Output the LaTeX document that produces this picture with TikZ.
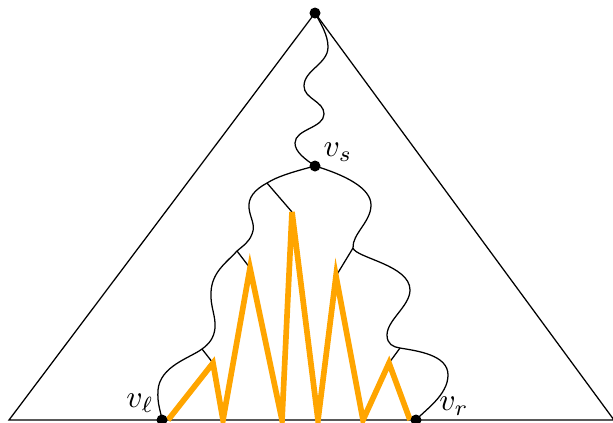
\documentclass[tikz,border=0pt]{standalone}
\usepackage{amsmath}
\definecolor{pathorange}{RGB}{255,165,0}
\begin{document}
\begin{tikzpicture}[x=0.3175pt,y=-0.3175pt,
  dot/.style={circle,fill=black,inner sep=0pt,minimum size=3.5pt},
  thin line/.style={line width=0.4pt,black},
  wavy/.style={line width=0.4pt,black},
  orange path/.style={line width=1.8pt,pathorange,line join=miter},
  lab/.style={inner sep=0pt}]
\useasboundingbox (0,0) rectangle (613,422);
% key points
\coordinate (top) at (315,13);
\coordinate (vs) at (315,166);
\coordinate (vl) at (162,420);
\coordinate (vr) at (416,420);
\coordinate (bl) at (9,420);
\coordinate (br) at (614,420);
% branch points on the curves
\coordinate (l1) at (267,183);
\coordinate (l2) at (237,251);
\coordinate (l3) at (202,349);
\coordinate (r1) at (353,248);
\coordinate (r2) at (400,348);
% orange peaks and feet
\coordinate (p1) at (213,363);
\coordinate (p2) at (250,268);
\coordinate (p3) at (292,212);
\coordinate (p4) at (336,276);
\coordinate (p5) at (389,363);
\coordinate (f0) at (168,420);
\coordinate (f1) at (223,420);
\coordinate (f2) at (282,420);
\coordinate (f3) at (318,420);
\coordinate (f4) at (363,420);
\coordinate (f5) at (410,420);
% triangle
\draw[thin line] (bl) -- (br) -- (top) -- cycle;
% wavy path from top to v_s
\draw[wavy] (top) .. controls (321,24) and (328,35) .. (328,47)
  .. controls (328,64) and (304,70) .. (304,86)
  .. controls (304,99) and (324,101) .. (324,114)
  .. controls (324,128) and (295,129) .. (295,143)
  .. controls (295,152) and (305,159) .. (vs);
% left boundary
\draw[wavy] (vs) .. controls (296,171) and (278,176) .. (l1)
  .. controls (254,190) and (248,198) .. (249,208)
  .. controls (250,218) and (256,225) .. (252,234)
  .. controls (249,242) and (244,245) .. (l2)
  .. controls (226,263) and (212,272) .. (211,292)
  .. controls (210,306) and (216,316) .. (215,328)
  .. controls (214,338) and (209,344) .. (l3)
  .. controls (190,358) and (160,366) .. (158,390)
  .. controls (157,404) and (161,412) .. (vl);
% right boundary
\draw[wavy] (vs) .. controls (345,175) and (371,188) .. (371,205)
  .. controls (371,222) and (352,234) .. (r1)
  .. controls (356,258) and (410,265) .. (410,290)
  .. controls (410,306) and (387,320) .. (387,335)
  .. controls (387,344) and (393,347) .. (r2)
  .. controls (418,351) and (448,355) .. (448,375)
  .. controls (448,395) and (425,410) .. (vr);
% branch segments
\draw[thin line] (l1) -- (p3);
\draw[thin line] (l2) -- (p2);
\draw[thin line] (l3) -- (p1);
\draw[thin line] (r1) -- (p4);
\draw[thin line] (r2) -- (p5);
% orange zigzag
\draw[orange path] (f0) -- (p1) -- (f1) -- (p2) -- (f2) -- (p3) -- (f3) -- (p4) -- (f4) -- (p5) -- (f5);
% dots
\node[dot] (ntop) at (top) {};
\node[dot] (nvs) at (vs) {};
\node[dot] (nvl) at (vl) {};
\node[dot] (nvr) at (vr) {};
% labels
\node[lab] (lvs) at (338,152) {$v_s$};
\node[lab] (lvl) at (140,403) {$v_\ell$};
\node[lab] (lvr) at (454,406) {$v_r$};
\end{tikzpicture}
\end{document}
